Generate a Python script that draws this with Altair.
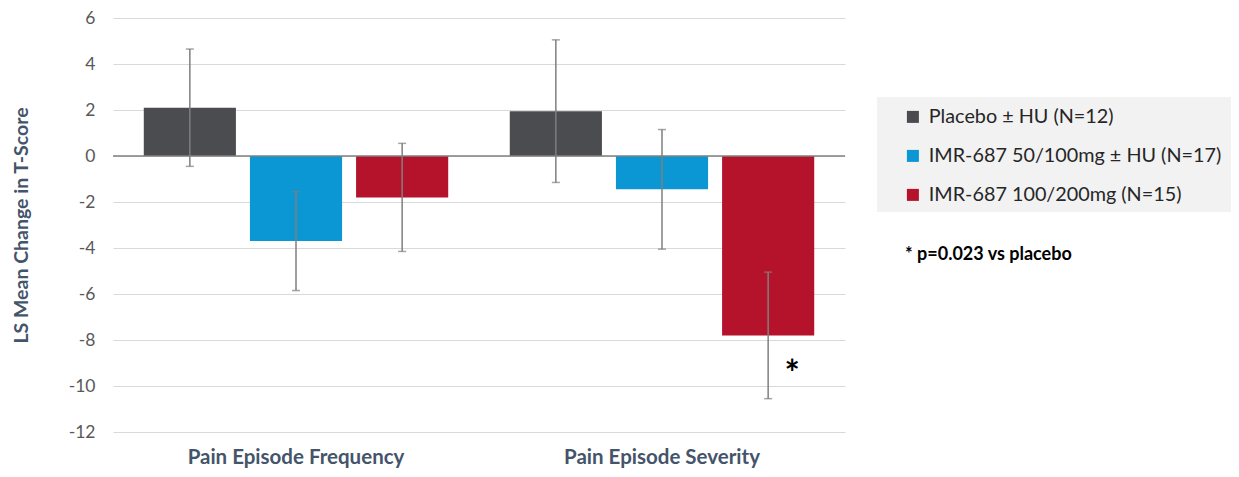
import altair as alt
import pandas as pd

measures = ["Pain Episode Frequency"] * 3 + ["Pain Episode Severity"] * 3
groups = ["Placebo ± HU (N=12)", "IMR-687 50/100mg ± HU (N=17)", "IMR-687 100/200mg (N=15)"] * 2
means = [2.1, -3.7, -1.8, 1.95, -1.45, -7.8]
errs = [2.55, 2.15, 2.35, 3.1, 2.6, 2.75]
group_order = ["Placebo ± HU (N=12)", "IMR-687 50/100mg ± HU (N=17)", "IMR-687 100/200mg (N=15)"]
colors = ["#4B4C50", "#0A97D3", "#B5132B"]
measure_order = ["Pain Episode Frequency", "Pain Episode Severity"]
y_ticks = [-12, -10, -8, -6, -4, -2, 0, 2, 4, 6]

df = pd.DataFrame({"measure": measures, "group": groups, "mean": means, "err": errs})
df["lo"] = df["mean"] - df["err"]
df["hi"] = df["mean"] + df["err"]

sig = pd.DataFrame({"measure": ["Pain Episode Severity"], "group": ["IMR-687 100/200mg (N=15)"],
                    "mean": [-7.8], "label": ["*"]})
note = pd.DataFrame({"text": ["* p=0.023 vs placebo"]})

FONT = "Lato"
TITLE_COLOR = "#44546A"

x_enc = alt.X("measure:N", sort=measure_order,
              scale=alt.Scale(paddingInner=0, paddingOuter=0),
              axis=alt.Axis(title=None, labelAngle=0, domain=False, ticks=False,
                            labelPadding=15, labelFontSize=20.5, labelFontWeight="bold",
                            labelColor=TITLE_COLOR, labelFont=FONT, labelLimit=0))
xo_enc = alt.XOffset("group:N", sort=group_order,
                     scale=alt.Scale(paddingInner=0.132, paddingOuter=0.29))
y_scale = alt.Scale(domain=[-12, 6], nice=False)

base = alt.Chart(df)

bars = base.mark_bar().encode(
    x=x_enc, xOffset=xo_enc,
    y=alt.Y("mean:Q", scale=y_scale,
            axis=alt.Axis(values=y_ticks, title="LS Mean Change  in T-Score",
                          labelExpr="'' + datum.value",
                          domain=False, ticks=False, labelPadding=18,
                          labelFontSize=17.5, labelColor="#595959", labelFont=FONT,
                          titleFontSize=19.5, titleFontWeight="bold", titleColor=TITLE_COLOR,
                          titleFont=FONT, titlePadding=37,
                          gridColor="#D9D9D9", gridWidth=1)),
    color=alt.Color("group:N", sort=group_order,
                    scale=alt.Scale(domain=group_order, range=colors),
                    legend=alt.Legend(orient="none", legendX=790, legendY=89, title=None,
                                      symbolType="square", symbolSize=144,
                                      symbolStrokeWidth=0, labelFontSize=19.8,
                                      labelColor="#262626", labelFont=FONT, labelLimit=0,
                                      rowPadding=18, labelOffset=6)),
)

zero = alt.Chart(pd.DataFrame({"z": [0]})).mark_rule(color="#808080", strokeWidth=1.5).encode(
    y=alt.Y("z:Q", scale=y_scale)
)

err_rule = base.mark_rule(color="#7F7F7F", strokeWidth=1.5).encode(
    x=x_enc, xOffset=xo_enc,
    y=alt.Y("lo:Q", scale=y_scale), y2="hi:Q",
)
cap_lo = base.mark_tick(color="#7F7F7F", thickness=1.5, size=8).encode(
    x=x_enc, xOffset=xo_enc, y=alt.Y("lo:Q", scale=y_scale)
)
cap_hi = base.mark_tick(color="#7F7F7F", thickness=1.5, size=8).encode(
    x=x_enc, xOffset=xo_enc, y=alt.Y("hi:Q", scale=y_scale)
)

star = alt.Chart(sig).mark_text(fontSize=36, fontWeight="bold", color="#000000",
                                dx=24, dy=40, font=FONT).encode(
    x=x_enc, xOffset=xo_enc, y=alt.Y("mean:Q", scale=y_scale), text="label:N"
)

box = alt.Chart(pd.DataFrame({"b": [1]})).mark_rect(color="#F2F2F2", clip=False).encode(
    x=alt.value(764), x2=alt.value(1130), y=alt.value(79), y2=alt.value(194)
)

footnote = alt.Chart(note).mark_text(fontSize=18, fontWeight="bold", color="#000000",
                                     align="left", baseline="middle", font=FONT).encode(
    x=alt.value(792), y=alt.value(237), text="text:N"
)

chart = alt.layer(box, bars, zero, err_rule, cap_lo, cap_hi, star, footnote).properties(
    width=732, height=414,
    autosize=alt.AutoSizeParams(type="none"),
    padding={"left": 105, "top": 10, "right": 386, "bottom": 37},
    background="#FFFFFF",
).configure_view(stroke=None)

chart.save("out.html", embed_options={"renderer": "svg", "actions": False})
